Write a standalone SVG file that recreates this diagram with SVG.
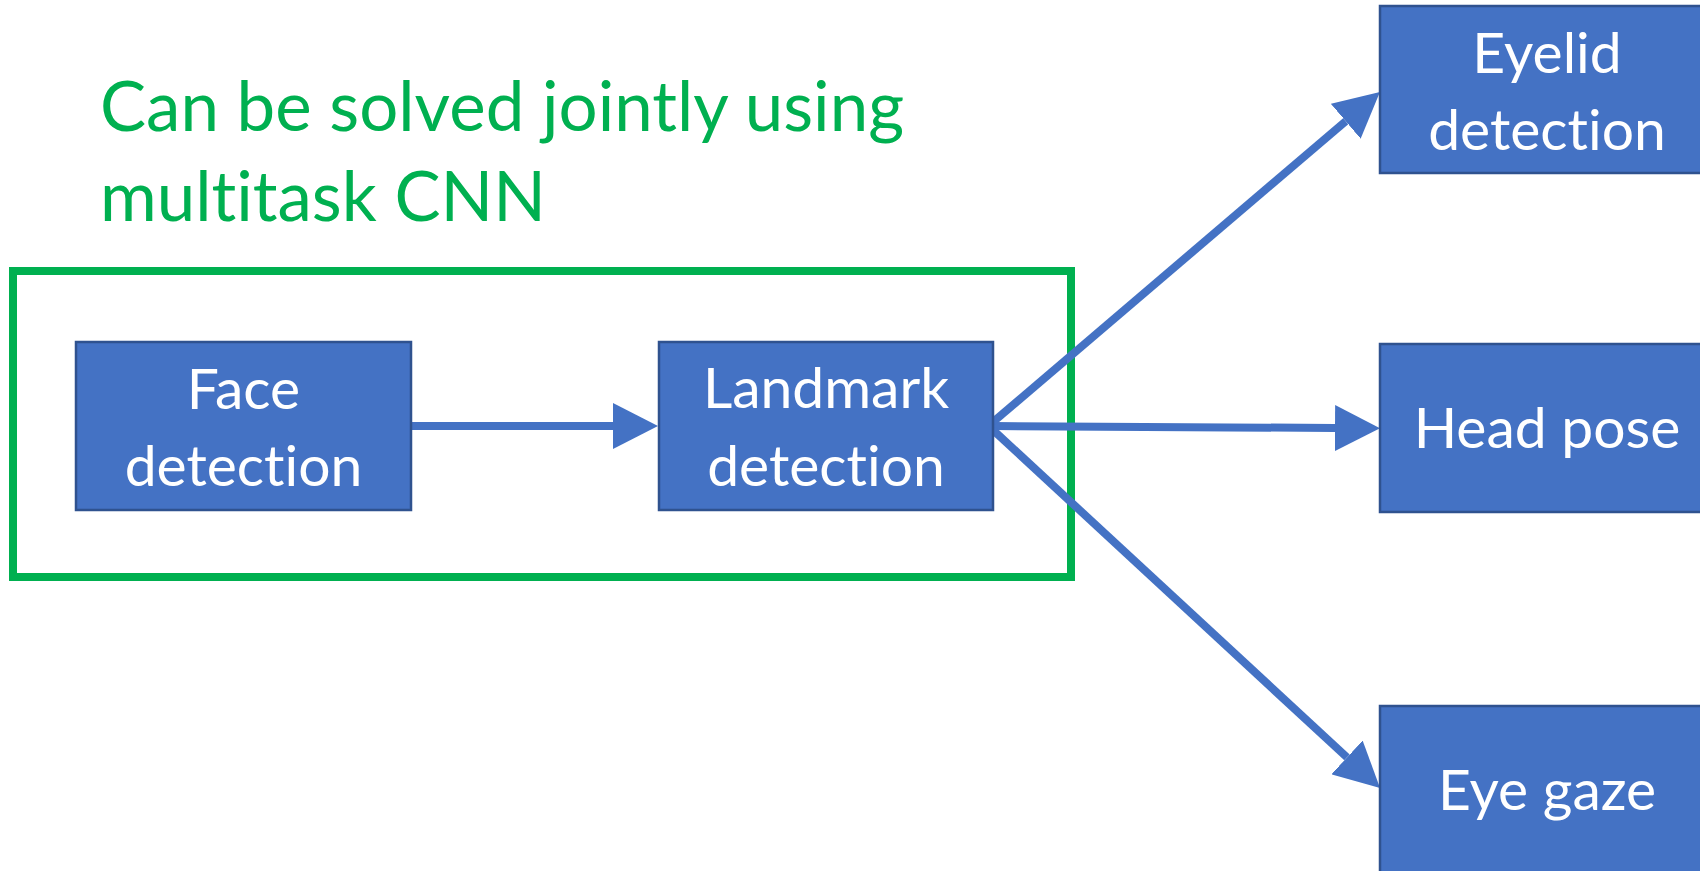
<svg xmlns="http://www.w3.org/2000/svg" width="1700" height="871" viewBox="0 0 1700 871">
<style>
.box{fill:#4472C4;stroke:#2F528F;stroke-width:2.5}
.lbl{fill:#FFFFFF;font-family:Lato,"Open Sans",sans-serif;font-size:57px;text-anchor:middle;font-variant-ligatures:none}
.conn{stroke:#4472C4;stroke-width:8;fill:none}
.title{fill:#00B050;font-family:Lato,"Open Sans",sans-serif;font-size:69px;font-variant-ligatures:none}
</style>
<defs>
<marker id="ah" viewBox="0 0 45 46" refX="0" refY="23" markerWidth="45" markerHeight="46" markerUnits="userSpaceOnUse" orient="auto">
<path d="M0,0 L45,23 L0,46 z" fill="#4472C4"/>
</marker>
</defs>
<rect width="1700" height="871" fill="#FFFFFF"/>
<g id="title">
<text class="title" x="100" y="131">Can be solved jointly using</text>
<text class="title" x="100" y="221">multitask CNN</text>
</g>
<g id="group-box">
<rect x="13" y="271" width="1058" height="306" fill="none" stroke="#00B050" stroke-width="8"/>
</g>
<g id="connectors">
<line class="conn" x1="411" y1="426" x2="613" y2="426" marker-end="url(#ah)"/>
<line class="conn" x1="993" y1="426" x2="1335" y2="428" marker-end="url(#ah)"/>
<line class="conn" x1="993" y1="422" x2="1345.7" y2="121.2" marker-end="url(#ah)"/>
<line class="conn" x1="993" y1="430" x2="1347" y2="757.4" marker-end="url(#ah)"/>
</g>
<g id="face">
<rect class="box" x="76" y="342" width="335" height="168"/>
<text class="lbl" x="243.5" y="409">Face</text>
<text class="lbl" x="243.5" y="486">detection</text>
</g>
<g id="landmark">
<rect class="box" x="659" y="342" width="334" height="168"/>
<text class="lbl" x="826" y="408">Landmark</text>
<text class="lbl" x="826" y="486">detection</text>
</g>
<g id="eyelid">
<rect class="box" x="1380" y="6" width="335" height="167"/>
<text class="lbl" x="1547" y="73">Eyelid</text>
<text class="lbl" x="1547" y="150">detection</text>
</g>
<g id="headpose">
<rect class="box" x="1380" y="344" width="335" height="168"/>
<text class="lbl" x="1547" y="448">Head pose</text>
</g>
<g id="eyegaze">
<rect class="box" x="1380" y="706" width="335" height="168"/>
<text class="lbl" x="1547" y="810">Eye gaze</text>
</g>
</svg>
